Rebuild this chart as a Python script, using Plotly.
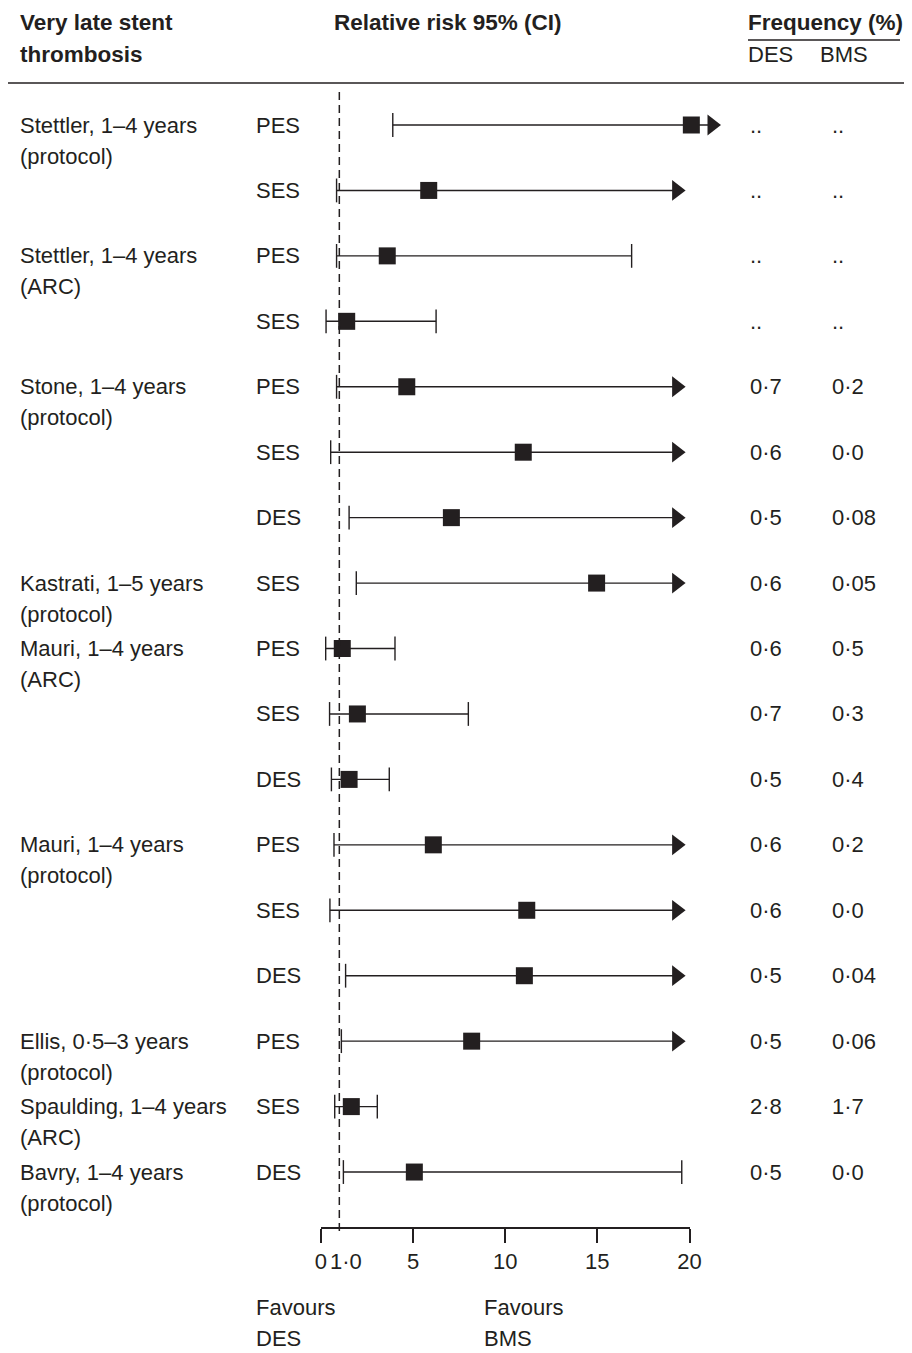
import plotly.graph_objects as go

# ---------------- data ----------------
study_line1 = ["Stettler, 1–4 years", "", "Stettler, 1–4 years", "", "Stone, 1–4 years", "", "",
               "Kastrati, 1–5 years", "Mauri, 1–4 years", "", "", "Mauri, 1–4 years", "", "",
               "Ellis, 0·5–3 years", "Spaulding, 1–4 years", "Bavry, 1–4 years"]
study_line2 = ["(protocol)", "", "(ARC)", "", "(protocol)", "", "",
               "(protocol)", "(ARC)", "", "", "(protocol)", "", "",
               "(protocol)", "(ARC)", "(protocol)"]
stent = ["PES", "SES", "PES", "SES", "PES", "SES", "DES", "SES", "PES", "SES", "DES",
         "PES", "SES", "DES", "PES", "SES", "DES"]
rr = [20.1, 5.85, 3.6, 1.4, 4.66, 10.98, 7.08, 14.96, 1.16, 1.98, 1.53,
      6.1, 11.17, 11.04, 8.18, 1.65, 5.07]
ci_low = [3.9, 0.85, 0.85, 0.28, 0.85, 0.53, 1.53, 1.92, 0.26, 0.47, 0.57,
          0.71, 0.49, 1.34, 1.11, 0.75, 1.22]
# None = upper limit beyond the axis (drawn as an arrow)
ci_high = [None, None, 16.86, 6.25, None, None, None, None, 4.02, 8.0, 3.71,
           None, None, None, None, 3.06, 19.58]
freq_des = ["..", "..", "..", "..", "0·7", "0·6", "0·5", "0·6", "0·6", "0·7", "0·5",
            "0·6", "0·6", "0·5", "0·5", "2·8", "0·5"]
freq_bms = ["..", "..", "..", "..", "0·2", "0·0", "0·08", "0·05", "0·5", "0·3", "0·4",
            "0·2", "0·0", "0·04", "0·06", "1·7", "0·0"]
tick_vals = [0, 5, 10, 15, 20]
tick_text = ["0", "5", "10", "15", "20"]
ref_value = 1
ref_label = "1·0"

# ---------------- styling / geometry ----------------
OFF = 8                      # page offset of the figure inside the window
W, H = 912 - OFF, 1353 - OFF
INK = "#231f20"
FONT = "Liberation Sans, Arial, Helvetica, sans-serif"
FS = 22
FSB = 22.5
X0_PX, UNIT_PX = 320.9 - OFF, 18.43      # pixel of value 0, pixels per unit
ROW0_PX, ROW_PX = 125.0 - OFF, 65.44     # first row pixel, row spacing
n = len(rr)

def fx(px):
    return (px - OFF) / W

def fy(py):
    return 1 - (py - OFF) / H

x_range = [-X0_PX / UNIT_PX, (W - X0_PX) / UNIT_PX]
y_range = [(H - ROW0_PX) / ROW_PX, -ROW0_PX / ROW_PX]

rows = list(range(n))
ARROW_X = 19.3
arrow_pos = [max(ARROW_X, r + 1.12) for r in rr]

# CI lines
lx, ly = [], []
for i in rows:
    end = ci_high[i] if ci_high[i] is not None else arrow_pos[i]
    lx += [ci_low[i], end, None]
    ly += [i, i, None]

cap_x = [ci_low[i] for i in rows] + [ci_high[i] for i in rows if ci_high[i] is not None]
cap_y = rows + [i for i in rows if ci_high[i] is not None]

arr_x = [arrow_pos[i] for i in rows if ci_high[i] is None]
arr_y = [i for i in rows if ci_high[i] is None]

fig = go.Figure()
fig.add_trace(go.Scatter(x=lx, y=ly, mode="lines", line=dict(color=INK, width=1.4),
                         hoverinfo="skip", showlegend=False))
fig.add_trace(go.Scatter(x=cap_x, y=cap_y, mode="markers",
                         marker=dict(symbol="line-ns", size=17, line=dict(color=INK, width=1.4)),
                         hoverinfo="skip", showlegend=False))
fig.add_trace(go.Scatter(x=arr_x, y=arr_y, mode="markers",
                         marker=dict(symbol="triangle-right", size=18, color=INK, line=dict(width=0)),
                         hoverinfo="skip", showlegend=False))
fig.add_trace(go.Scatter(x=rr, y=rows, mode="markers",
                         marker=dict(symbol="square", size=17, color=INK, line=dict(width=0)),
                         name="Relative risk", showlegend=False))
# dummy trace to carry the displayed axis
fig.add_trace(go.Scatter(x=[None], y=[None], xaxis="x2", yaxis="y", showlegend=False,
                         hoverinfo="skip"))

ann = []
def add_text(x_px, y, text, yref="y", yshift=0, size=FS):
    ann.append(dict(x=fx(x_px - 2), xref="paper", y=y, yref=yref, text=text, showarrow=False,
                    xanchor="left", yanchor="middle", yshift=yshift,
                    font=dict(family=FONT, size=size, color=INK)))

for i in rows:
    if study_line1[i]:
        add_text(20, i, study_line1[i])
    if study_line2[i]:
        add_text(20, i, study_line2[i], yshift=-31)
    add_text(256, i, stent[i])
    add_text(750, i, freq_des[i])
    add_text(832, i, freq_bms[i])

# headers
add_text(20, fy(22), "<b>Very late stent</b>", yref="paper", size=FSB)
add_text(20, fy(54), "<b>thrombosis</b>", yref="paper", size=FSB)
add_text(334, fy(22), "<b>Relative risk 95% (CI)</b>", yref="paper", size=FSB)
add_text(748, fy(22), "<b>Frequency (%)</b>", yref="paper", size=FSB)
add_text(748, fy(54), "DES", yref="paper")
add_text(820, fy(54), "BMS", yref="paper")
# favours labels
add_text(256, fy(1307), "Favours", yref="paper")
add_text(256, fy(1338), "DES", yref="paper")
add_text(484, fy(1307), "Favours", yref="paper")
add_text(484, fy(1338), "BMS", yref="paper")
# label of the reference (no-effect) line on the axis, nudged right of the "0"
ann.append(dict(x=ref_value, xref="x2", y=fy(1261), yref="paper", text=ref_label,
                showarrow=False, xanchor="center", yanchor="middle", xshift=7,
                font=dict(family=FONT, size=FS, color=INK)))

shapes = [
    dict(type="line", xref="paper", yref="paper", x0=0, x1=1,
         y0=fy(83), y1=fy(83), line=dict(color=INK, width=1.5)),
    dict(type="line", xref="paper", yref="paper", x0=fx(748), x1=fx(900),
         y0=fy(40), y1=fy(40), line=dict(color=INK, width=1.5)),
    dict(type="line", xref="x", yref="paper", x0=ref_value, x1=ref_value,
         y0=fy(92), y1=fy(1233), line=dict(color=INK, width=1.5, dash="8px,5px")),
]

fig.update_layout(
    width=W, height=H, margin=dict(l=0, r=0, t=0, b=0, pad=0),
    paper_bgcolor="white", plot_bgcolor="rgba(0,0,0,0)",
    showlegend=False,
    xaxis=dict(domain=[0, 1], range=x_range, visible=False, fixedrange=True, automargin=False),
    yaxis=dict(domain=[0, 1], range=y_range, visible=False, fixedrange=True, automargin=False),
    xaxis2=dict(domain=[X0_PX / W, (X0_PX + 20 * UNIT_PX) / W], range=[0, 20],
                anchor="free", position=fy(1228), automargin=False,
                showline=True, linewidth=1.5, linecolor=INK,
                tickmode="array", tickvals=tick_vals, ticktext=tick_text, tickangle=0,
                ticks="outside", ticklen=14, tickwidth=1.5, tickcolor=INK,
                tickfont=dict(family=FONT, size=FS, color=INK),
                showgrid=False, zeroline=False, fixedrange=True),
    annotations=ann, shapes=shapes,
    font=dict(family=FONT, size=FS, color=INK),
)

fig.write_html("out.html")
